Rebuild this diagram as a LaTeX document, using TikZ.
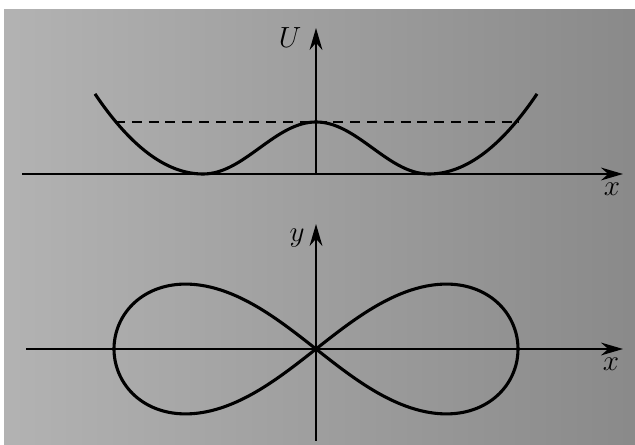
\documentclass[tikz,border=0pt]{standalone}
\usepackage{tikz}
\usetikzlibrary{arrows.meta}
\tikzset{
  axis/.style  ={-{Stealth[length=5.5mm, width=3.2mm, inset=1.8mm]}, line width=1.6pt},
  curve/.style ={line width=2.2pt, line join=round},
  level/.style ={line width=2pt, dash pattern=on 2.5mm off 1.7mm},
  lbl/.style   ={font=\fontsize{21}{24}\selectfont, inner sep=0pt},
  declare function={
    dw(\u)=max(abs(\u)-113,0);
    pot(\u)=(abs(\u)<113)*26*(1+cos(1.59292*min(abs(\u),113))) + 0.00687*dw(\u)*dw(\u);
  },
}

\begin{document}
\begin{tikzpicture}[x=0.025cm, y=0.025cm]
  \useasboundingbox (0,0) rectangle (635,445);
  % paper
  \shade[left color=black!30, right color=black!46] (4,0) rectangle (635,435);
  % potential well U(x)
  \coordinate (O1) at (316,271);
  \coordinate (xa1) at (22,271);
  \coordinate (xb1) at (623,271);
  \coordinate (Utip) at (316,417);
  \coordinate (lva) at (115,323);
  \coordinate (lvb) at (519,323);
  \draw[axis] (xa1) -- (xb1);
  \draw[axis] (O1) -- (Utip);
  \draw[level] (lva) -- (lvb);
  \draw[curve, shift={(O1)}] plot[domain=-221:221, samples=161, smooth] (\x, {pot(\x)});
  \node[lbl] (Ulbl) at (290,407) {$U$};
  \node[lbl] (xlbl1) at (612,256) {$x$};
  % phase plane (separatrix)
  \coordinate (O2) at (316,96);
  \coordinate (xa2) at (26,96);
  \coordinate (xb2) at (623,96);
  \coordinate (ya) at (316,4);
  \coordinate (ytip) at (316,221);
  \draw[axis] (xa2) -- (xb2);
  \draw[axis] (ya) -- (ytip);
  \draw[curve, shift={(O2)}] plot[domain=0:360, samples=181, smooth]
    ({202*cos(\x)/(1+0.5*sin(\x)^2)}, {159*sin(\x)*cos(\x)/(1+0.5*sin(\x)^2)}) -- cycle;
  \node[lbl] (ylbl) at (297,207) {$y$};
  \node[lbl] (xlbl2) at (611,81) {$x$};
\end{tikzpicture}
\end{document}
